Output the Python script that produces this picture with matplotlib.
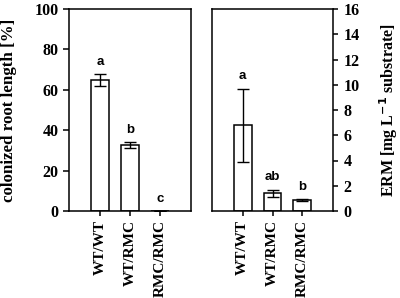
import numpy as np
import matplotlib
matplotlib.use("Agg")
import matplotlib.pyplot as plt

# data
groups = ["WT/WT", "WT/RMC", "RMC/RMC"]
colonized = [65.0, 32.6, 0.0]
colonized_err = [3.0, 1.5, 0.0]
colonized_letters = ["a", "b", "c"]
erm = [6.8, 1.4, 0.87]
erm_err = [2.9, 0.28, 0.05]
erm_letters = ["a", "ab", "b"]

plt.rcParams['font.family'] = 'Liberation Serif'
plt.rcParams['font.weight'] = 'bold'
plt.rcParams['axes.linewidth'] = 1.1

fig = plt.figure(figsize=(4.0, 2.98), dpi=100)
W, H = 400, 298
ax1 = fig.add_axes([69 / W, 1 - 211 / H, 122 / W, 202 / H])
ax2 = fig.add_axes([212 / W, 1 - 211 / H, 121 / W, 202 / H])

x = np.arange(len(groups))
label_font = dict(family='Liberation Sans', weight='bold', fontsize=9.5)

def draw(ax, vals, errs, letters, ymax, letter_off):
    ax.bar(x, vals, width=0.6, color='white', edgecolor='black', linewidth=1.1)
    ax.errorbar(x, vals, yerr=errs, fmt='none', ecolor='black', elinewidth=1.0,
                capsize=4.5, capthick=1.0)
    for xi, v, e, t in zip(x, vals, errs, letters):
        ax.text(xi, v + e + letter_off, t, ha='center', va='bottom', **label_font)
    ax.set_xlim(-1.03, 3.03)
    ax.set_ylim(0, ymax)
    ax.set_xticks(x)
    ax.set_xticklabels(groups, rotation=90, fontsize=11, fontweight='bold')
    ax.tick_params(axis='x', direction='out', length=3.6, width=1.1, pad=3)
    ax.tick_params(axis='y', direction='out', length=4.3, width=1.1, labelsize=11.5)

draw(ax1, colonized, colonized_err, colonized_letters, 100, 3)
ax1.set_yticks(np.arange(0, 101, 20))
ax1.tick_params(axis='y', pad=3)
ax1.set_ylabel("colonized root length [%]", fontsize=12.2, fontweight='bold')
ax1.yaxis.set_label_coords(-0.43, 0.5)

draw(ax2, erm, erm_err, erm_letters, 16, 0.5)
ax2.set_yticks(np.arange(0, 17, 2))
ax2.yaxis.tick_right()
ax2.tick_params(axis='y', length=3.6, pad=4)
ax2.yaxis.set_label_position('right')
ax2.set_ylabel(r"ERM [mg L$^{\mathbf{-1}}$ substrate]", fontsize=11.5, fontweight='bold')
ax2.yaxis.set_label_coords(1.365, 0.5)

for lab in ax1.get_yticklabels() + ax2.get_yticklabels():
    lab.set_fontweight('bold')

fig.savefig("out.png", dpi=100)
